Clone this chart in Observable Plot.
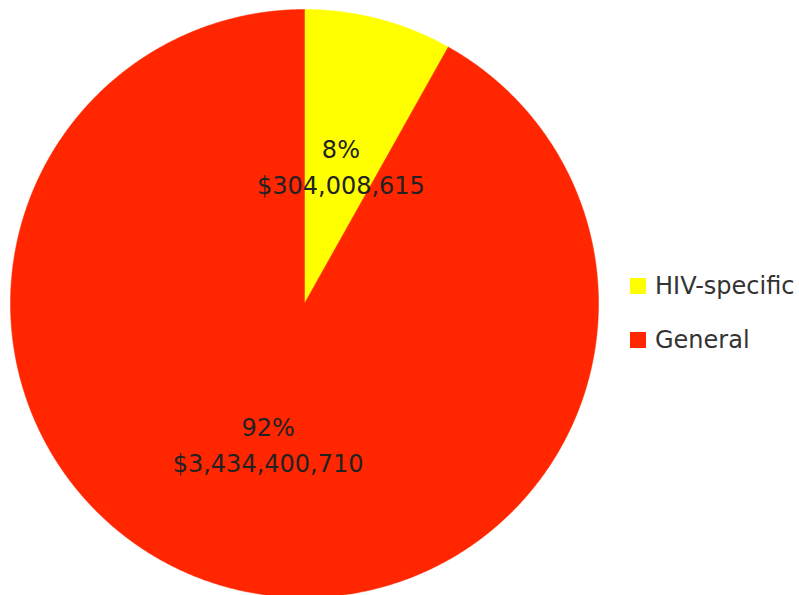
<!DOCTYPE html>
<html>
<head>
<meta charset="utf-8">
<script src="https://cdn.jsdelivr.net/npm/d3@7"></script>
<script src="https://cdn.jsdelivr.net/npm/@observablehq/plot@0.6"></script>
<style>
  html, body { margin: 0; padding: 0; background: #fff; }
  #wrap { position: relative; width: 799px; height: 595px; overflow: hidden; }
  #legend { position: absolute; left: 630px; top: 266px; font-family: "DejaVu Sans", Verdana, sans-serif; font-size: 24px; color: #333; }
  .item { display: flex; align-items: center; height: 40px; margin-bottom: 14px; }
  .sw { width: 16px; height: 16px; margin-right: 9px; }
</style>
</head>
<body>
<div id="wrap"><div id="legend"></div></div>
<script>
const categories = ["HIV-specific", "General"];
const amounts = [304008615, 3434400710];
const percentLabels = ["8%", "92%"];
const colors = ["#ffff00", "#ff2600"];

const pie = d3.pie().sort(null).value(d => d.amount)(
  categories.map((c, i) => ({category: c, amount: amounts[i], pct: percentLabels[i]}))
);

// slice outlines in unit-circle coordinates (angle 0 at top, clockwise)
const outline = [];
pie.forEach(s => {
  const n = Math.max(2, Math.ceil((s.endAngle - s.startAngle) / 0.005));
  outline.push({category: s.data.category, x: 0, y: 0});
  for (let k = 0; k <= n; k++) {
    const a = s.startAngle + (s.endAngle - s.startAngle) * k / n;
    outline.push({category: s.data.category, x: Math.sin(a), y: Math.cos(a)});
  }
  outline.push({category: s.data.category, x: 0, y: 0});
});

const fmt = d3.format("$,");
const labelR = 0.49;
const labels = pie.map(s => {
  const m = (s.startAngle + s.endAngle) / 2;
  return {x: labelR * Math.sin(m), y: labelR * Math.cos(m), text: `${s.data.pct}\n${fmt(s.data.amount)}`};
});

const cx = 304, cy = 303, r = 294;
const chart = Plot.plot({
  width: 799,
  height: 595,
  margin: 0,
  x: {domain: [-1, 1], range: [cx - r, cx + r], axis: null},
  y: {domain: [-1, 1], range: [cy + r, cy - r], axis: null},
  color: {domain: categories, range: colors},
  style: {background: "white"},
  marks: [
    Plot.line(outline, {x: "x", y: "y", z: "category", fill: "category", stroke: "category", strokeWidth: 0.5, curve: "linear"}),
    Plot.text(labels, {x: "x", y: "y", text: "text", fontSize: 24, lineHeight: 1.5, fill: "#222", fontFamily: "DejaVu Sans, Verdana, sans-serif"})
  ]
});
chart.style.position = "absolute";
chart.style.left = "0";
chart.style.top = "0";
document.getElementById("wrap").insertBefore(chart, document.getElementById("legend"));

const legend = document.getElementById("legend");
categories.forEach((c, i) => {
  const item = document.createElement("div");
  item.className = "item";
  const sw = document.createElement("span");
  sw.className = "sw";
  sw.style.background = colors[i];
  const t = document.createElement("span");
  t.textContent = c;
  item.appendChild(sw);
  item.appendChild(t);
  legend.appendChild(item);
});
</script>
</body>
</html>
